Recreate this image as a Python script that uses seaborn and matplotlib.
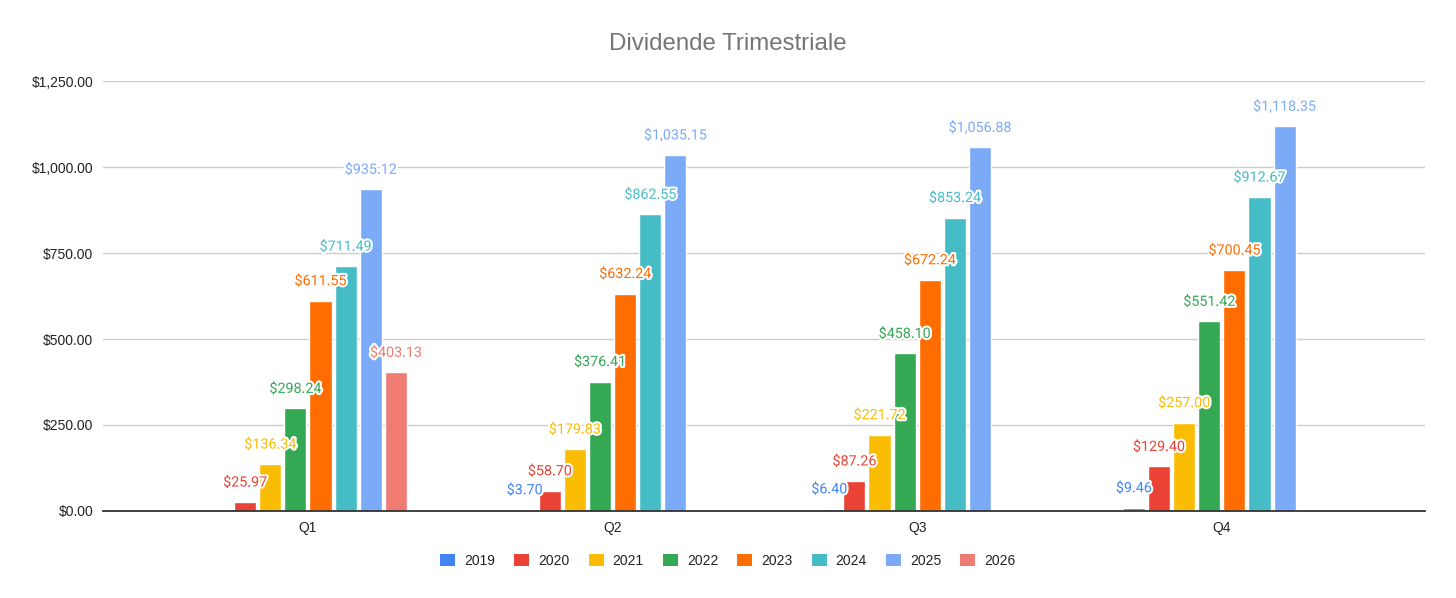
import pandas as pd
import matplotlib
matplotlib.use("Agg")
import matplotlib.pyplot as plt
import matplotlib.patheffects as pe
from matplotlib.patches import Patch
import seaborn as sns

# Quarterly dividends per year (None = no bar)
quarters = ["Q1", "Q2", "Q3", "Q4"]
years = ["2019", "2020", "2021", "2022", "2023", "2024", "2025", "2026"]
v2019 = [None, 3.70, 6.40, 9.46]
v2020 = [25.97, 58.70, 87.26, 129.40]
v2021 = [136.34, 179.83, 221.72, 257.00]
v2022 = [298.24, 376.41, 458.10, 551.42]
v2023 = [611.55, 632.24, 672.24, 700.45]
v2024 = [711.49, 862.55, 853.24, 912.67]
v2025 = [935.12, 1035.15, 1056.88, 1118.35]
v2026 = [403.13, None, None, None]
colors = ["#4285F4", "#EA4335", "#FBBC04", "#34A853",
          "#FF6D01", "#46BDC6", "#7BAAF7", "#F07B72"]

series = [v2019, v2020, v2021, v2022, v2023, v2024, v2025, v2026]
rows = []
for yr, vals in zip(years, series):
    for q, v in zip(quarters, vals):
        if v is not None:
            rows.append({"quarter": q, "year": yr, "value": v})
df = pd.DataFrame(rows)
palette = dict(zip(years, colors))

sns.set_theme(style="white")
plt.rcParams["font.family"] = ["Liberation Sans", "DejaVu Sans"]

fig = plt.figure(figsize=(14.56, 5.98), dpi=100)
ax = fig.add_axes([0.0707, 0.1455, 0.908, 0.719])

sns.barplot(data=df, x="quarter", y="value", hue="year", order=quarters,
            hue_order=years, palette=palette, saturation=1, width=0.66,
            gap=0.12, errorbar=None, legend=False, ax=ax, zorder=3)

for cont in ax.containers:
    col = cont.patches[0].get_facecolor()
    ax.bar_label(cont, labels=[f"${v:,.2f}" for v in cont.datavalues],
                 padding=9, color=col, fontsize=10.3, family=["Roboto", "DejaVu Sans"],
                 path_effects=[pe.withStroke(linewidth=3, foreground="white")],
                 clip_on=False, zorder=5)

ax.set_ylim(0, 1250)
ax.set_xlim(-0.673, 3.667)
ax.set_yticks([0, 250, 500, 750, 1000, 1250])
ax.set_yticklabels([f"${t:,.2f}" for t in [0, 250, 500, 750, 1000, 1250]])
ax.yaxis.grid(True, color="#cccccc", linewidth=1, zorder=0)
ax.set_axisbelow(True)
for s in ["top", "right", "left"]:
    ax.spines[s].set_visible(False)
ax.spines["bottom"].set_color("#333333")
ax.spines["bottom"].set_linewidth(1.3)
ax.spines["bottom"].set_zorder(4)
ax.tick_params(axis="y", length=0, pad=7, labelsize=10, labelcolor="#222222")
ax.tick_params(axis="x", length=0, pad=7, labelsize=10, labelcolor="#222222")
ax.set_xlabel("")
ax.set_ylabel("")

fig.suptitle("Dividende Trimestriale", x=0.5, y=0.945, fontsize=17.3,
             color="#757575")

handles = [Patch(facecolor=c, edgecolor="none", label=y) for y, c in zip(years, colors)]
fig.legend(handles=handles, loc="center", bbox_to_anchor=(0.5, 0.062), ncol=8,
           frameon=False, fontsize=10, handlelength=1.08, handleheight=1.0,
           handletextpad=0.65, columnspacing=1.37, labelcolor="#222222")

fig.savefig("out.png", dpi=100, facecolor="white")
